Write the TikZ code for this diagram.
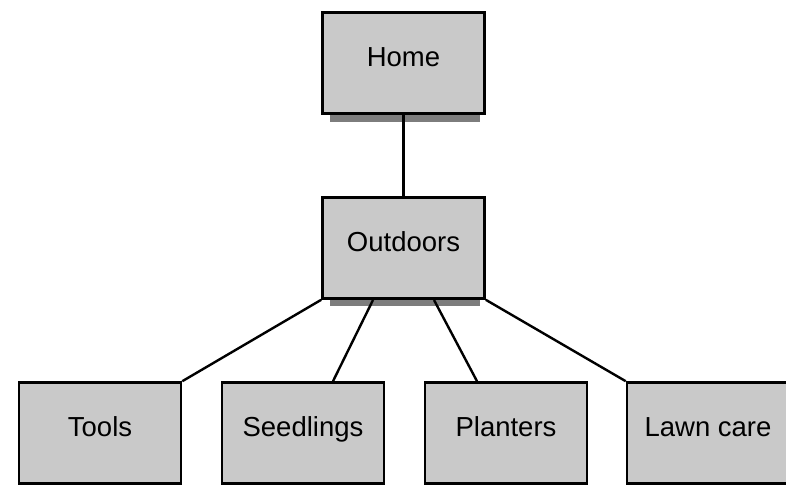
\documentclass[tikz,border=0pt]{standalone}
\usepackage{fontspec}
\setmainfont{Liberation Sans}
\definecolor{boxfill}{RGB}{201,201,201}
\definecolor{shade}{RGB}{70,70,70}
\begin{document}
\begin{tikzpicture}[x=1pt,y=-1pt,
  box/.style={draw=black, line width=2.6pt, fill=boxfill, minimum width=162pt, minimum height=101pt, inner sep=0pt, text height=0.76em, text depth=0pt, font=\fontsize{27.5}{32}\selectfont},
  conn/.style={line width=2.4pt, draw=black},
  shadowband/.style={fill=shade, opacity=0.7}]
\useasboundingbox (0,0) rectangle (786,484);
% shadows under top boxes
\fill[shadowband] (330,114) rectangle (480,122);
\fill[shadowband] (330,298) rectangle (480,306);
\node[box] (home) at (403.5,63) {Home};
\node[box] (out) at (403.5,248) {Outdoors};
\node[box] (tools) at (100,433) {Tools};
\node[box] (seed) at (303,433) {Seedlings};
\node[box] (plant) at (506,433) {Planters};
\node[box] (lawn) at (708,433) {Lawn care};
\coordinate (s1) at (373,300);
\coordinate (s2) at (434,300);
\draw[conn] (home.south) -- (out.north);
\draw[conn] (out.south west) -- (tools.north east);
\draw[conn] (s1) -- (seed.north -| 333,0);
\draw[conn] (s2) -- (plant.north -| 477,0);
\draw[conn] (out.south east) -- (lawn.north west);
\end{tikzpicture}
\end{document}
